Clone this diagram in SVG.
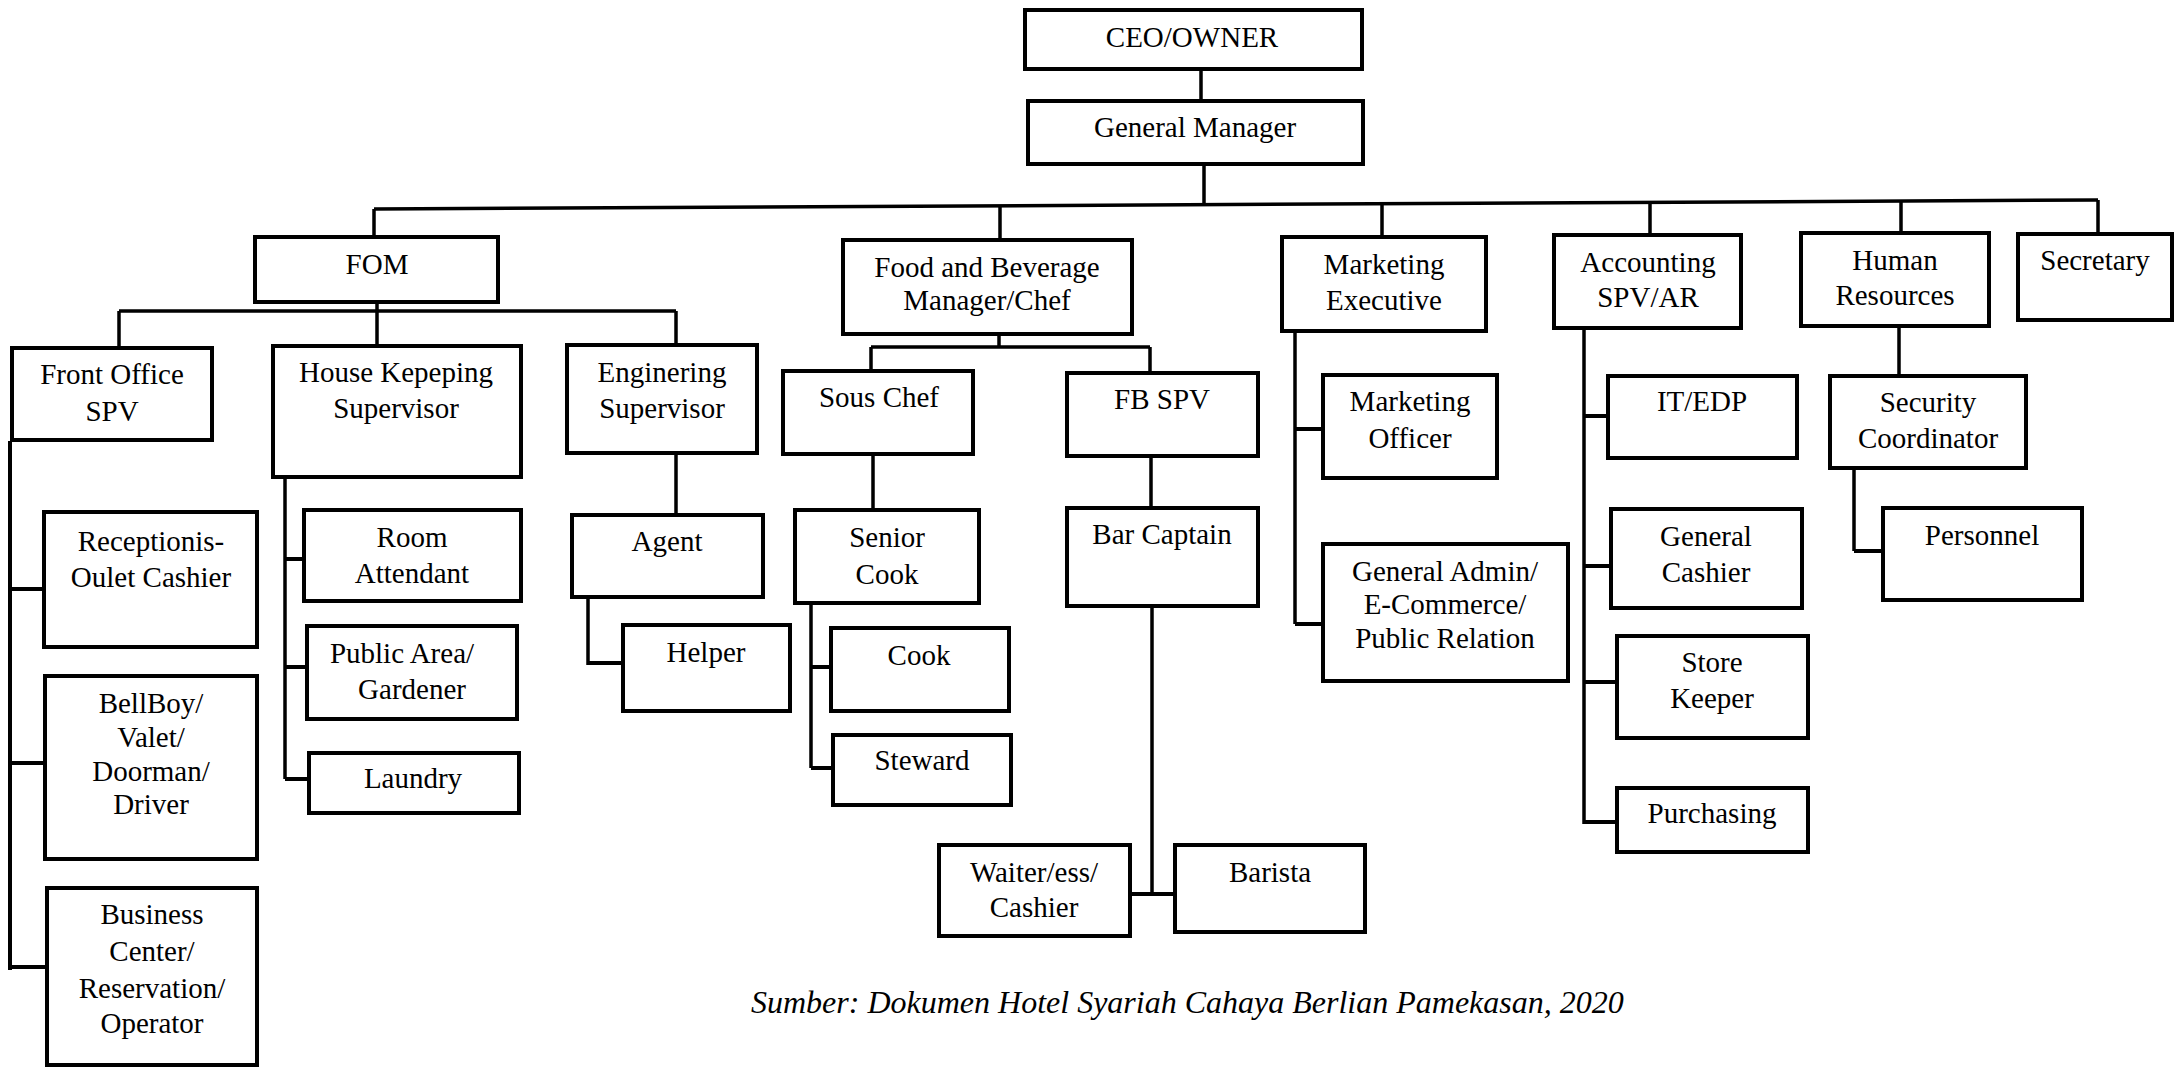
<svg xmlns="http://www.w3.org/2000/svg" width="2179" height="1069" viewBox="0 0 2179 1069">
<style>
.box{fill:#fff;stroke:#000;stroke-width:4}
.c{stroke:#000;stroke-width:3.5;fill:none}
.s{stroke:#000;stroke-width:4;fill:none}
.t{font-family:'Liberation Serif','DejaVu Serif',serif;font-size:29px;text-anchor:middle;fill:#000}
.cap{font-family:'Liberation Serif','DejaVu Serif',serif;font-size:32px;font-style:italic;fill:#000}
</style>
<rect width="2179" height="1069" fill="#fff"/>
<g id="connectors">
<path class="c" d="M1201,71V99M1204,166V206"/>
<path class="c" d="M374,209L2098,200"/>
<path class="c" d="M374,209V236M1000,206V238M1382,204V235M1650,202V233M1901,201V231M2098,200V232"/>
<path class="c" d="M377,304V344M119,311H676M119,311V346M676,311V343"/>
<path class="c" d="M999,336V347M871,347H1150M871,347V369M1150,347V371"/>
<path class="c" d="M1295,333V624"/><path class="s" d="M1295,429H1321M1295,624H1321"/>
<path class="c" d="M1584,330V824"/><path class="s" d="M1584,416H1606M1584,566H1609M1584,682H1615M1584,822H1615"/>
<path class="c" d="M1899,328V374M1854,470V551"/><path class="s" d="M1854,551H1883"/>
<path class="s" d="M10,441V970"/><path class="s" d="M10,589H43M10,763H43M10,967H45"/>
<path class="c" d="M285,479V779"/><path class="s" d="M285,559H302M285,667H305M285,779H307"/>
<path class="c" d="M676,455V513M588,595V665"/><path class="s" d="M588,663H621"/>
<path class="c" d="M873,456V508M811,605V768"/><path class="s" d="M811,667H829M811,768H831"/>
<path class="c" d="M1151,458V506M1152,608V894"/><path class="s" d="M1132,894H1177"/>
</g>
<g class="t">
<g id="ceo"><rect class="box" x="1025" y="10" width="337" height="59"/><text x="1192" y="47">CEO/OWNER</text></g>
<g id="gm"><rect class="box" x="1028" y="101" width="335" height="63"/><text x="1195" y="137">General Manager</text></g>
<g id="fom"><rect class="box" x="255" y="237" width="243" height="65"/><text x="377" y="274">FOM</text></g>
<g id="fb"><rect class="box" x="843" y="240" width="289" height="94"/><text x="987" y="277">Food and Beverage</text><text x="987" y="310">Manager/Chef</text></g>
<g id="mkt"><rect class="box" x="1282" y="237" width="204" height="94"/><text x="1384" y="274">Marketing</text><text x="1384" y="310">Executive</text></g>
<g id="acct"><rect class="box" x="1554" y="235" width="187" height="93"/><text x="1648" y="272">Accounting</text><text x="1648" y="307">SPV/AR</text></g>
<g id="hr"><rect class="box" x="1801" y="233" width="188" height="93"/><text x="1895" y="270">Human</text><text x="1895" y="305">Resources</text></g>
<g id="sec"><rect class="box" x="2018" y="234" width="154" height="86"/><text x="2095" y="270">Secretary</text></g>
<g id="fospv"><rect class="box" x="12" y="348" width="200" height="92"/><text x="112" y="384">Front Office</text><text x="112" y="421">SPV</text></g>
<g id="hk"><rect class="box" x="273" y="346" width="248" height="131"/><text x="396" y="382">House Kepeping</text><text x="396" y="418">Supervisor</text></g>
<g id="eng"><rect class="box" x="567" y="345" width="190" height="108"/><text x="662" y="382">Enginering</text><text x="662" y="418">Supervisor</text></g>
<g id="sous"><rect class="box" x="783" y="371" width="190" height="83"/><text x="879" y="407">Sous Chef</text></g>
<g id="fbspv"><rect class="box" x="1067" y="373" width="191" height="83"/><text x="1162" y="409">FB SPV</text></g>
<g id="mktoff"><rect class="box" x="1323" y="375" width="174" height="103"/><text x="1410" y="411">Marketing</text><text x="1410" y="448">Officer</text></g>
<g id="genadmin"><rect class="box" x="1323" y="544" width="245" height="137"/><text x="1445" y="581">General Admin/</text><text x="1445" y="614">E-Commerce/</text><text x="1445" y="648">Public Relation</text></g>
<g id="itedp"><rect class="box" x="1608" y="376" width="189" height="82"/><text x="1702" y="411">IT/EDP</text></g>
<g id="gencash"><rect class="box" x="1611" y="509" width="191" height="99"/><text x="1706" y="546">General</text><text x="1706" y="582">Cashier</text></g>
<g id="store"><rect class="box" x="1617" y="636" width="191" height="102"/><text x="1712" y="672">Store</text><text x="1712" y="708">Keeper</text></g>
<g id="purch"><rect class="box" x="1617" y="788" width="191" height="64"/><text x="1712" y="823">Purchasing</text></g>
<g id="security"><rect class="box" x="1830" y="376" width="196" height="92"/><text x="1928" y="412">Security</text><text x="1928" y="448">Coordinator</text></g>
<g id="personnel"><rect class="box" x="1883" y="508" width="199" height="92"/><text x="1982" y="545">Personnel</text></g>
<g id="recep"><rect class="box" x="44" y="512" width="213" height="135"/><text x="151" y="551">Receptionis-</text><text x="151" y="587">Oulet Cashier</text></g>
<g id="bellboy"><rect class="box" x="45" y="676" width="212" height="183"/><text x="151" y="713">BellBoy/</text><text x="151" y="747">Valet/</text><text x="151" y="781">Doorman/</text><text x="151" y="814">Driver</text></g>
<g id="business"><rect class="box" x="47" y="888" width="210" height="177"/><text x="152" y="924">Business</text><text x="152" y="961">Center/</text><text x="152" y="998">Reservation/</text><text x="152" y="1033">Operator</text></g>
<g id="room"><rect class="box" x="304" y="510" width="217" height="91"/><text x="412" y="547">Room</text><text x="412" y="583">Attendant</text></g>
<g id="public"><rect class="box" x="307" y="626" width="210" height="93"/><text x="402" y="663">Public Area/</text><text x="412" y="699">Gardener</text></g>
<g id="laundry"><rect class="box" x="309" y="753" width="210" height="60"/><text x="413" y="788">Laundry</text></g>
<g id="agent"><rect class="box" x="572" y="515" width="191" height="82"/><text x="667" y="551">Agent</text></g>
<g id="helper"><rect class="box" x="623" y="625" width="167" height="86"/><text x="706" y="662">Helper</text></g>
<g id="senior"><rect class="box" x="795" y="510" width="184" height="93"/><text x="887" y="547">Senior</text><text x="887" y="584">Cook</text></g>
<g id="cook"><rect class="box" x="831" y="628" width="178" height="83"/><text x="919" y="665">Cook</text></g>
<g id="steward"><rect class="box" x="833" y="735" width="178" height="70"/><text x="922" y="770">Steward</text></g>
<g id="barcap"><rect class="box" x="1067" y="508" width="191" height="98"/><text x="1162" y="544">Bar Captain</text></g>
<g id="waiter"><rect class="box" x="939" y="845" width="191" height="91"/><text x="1034" y="882">Waiter/ess/</text><text x="1034" y="917">Cashier</text></g>
<g id="barista"><rect class="box" x="1175" y="845" width="190" height="87"/><text x="1270" y="882">Barista</text></g>
</g>
<text class="cap" x="751" y="1013">Sumber: Dokumen Hotel Syariah Cahaya Berlian Pamekasan, 2020</text>
</svg>
